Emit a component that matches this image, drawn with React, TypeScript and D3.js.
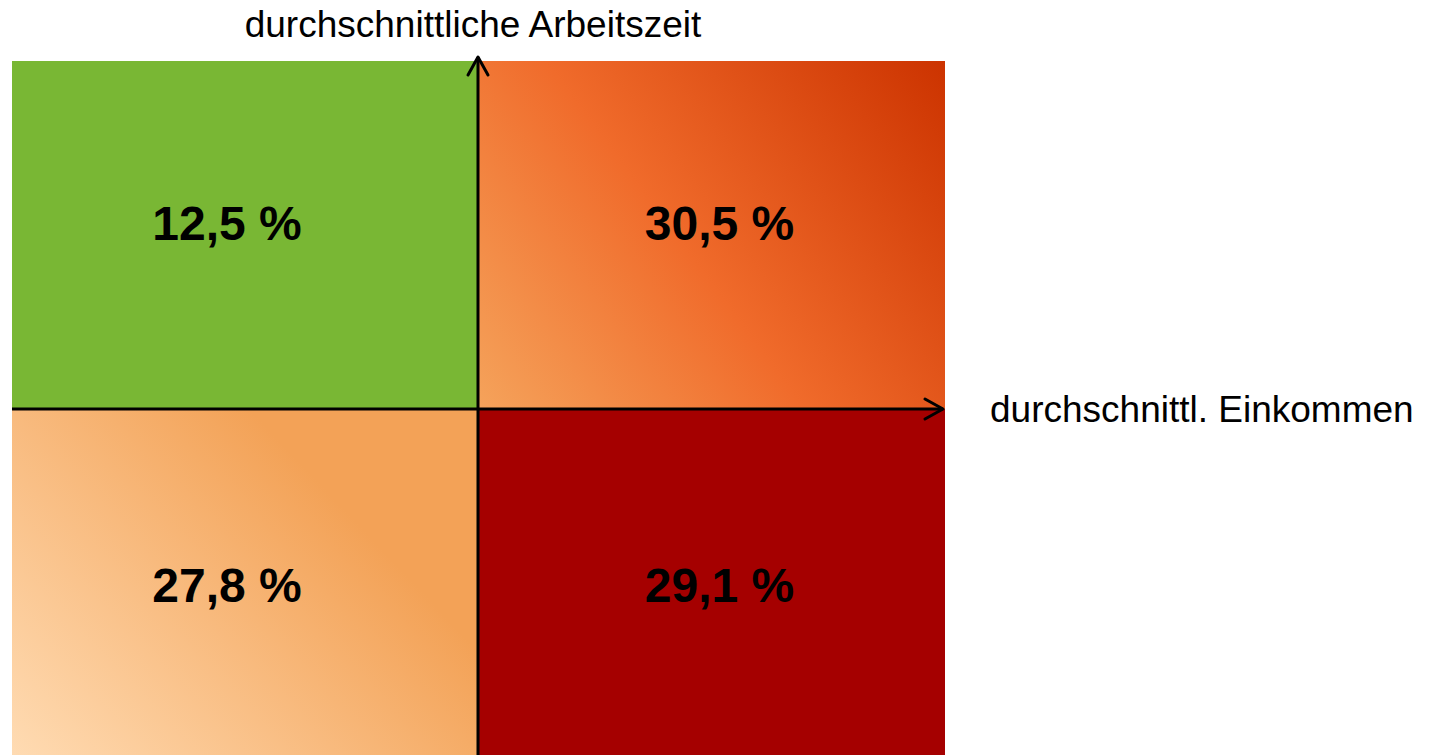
import React, { useRef, useEffect } from "react";
import * as d3 from "d3";

// quadrant data: position (-1 = left/bottom, 1 = right/top) and share
const quadrantNames = ["topLeft", "topRight", "bottomLeft", "bottomRight"];
const quadrantX = [-1, 1, -1, 1];
const quadrantY = [1, 1, -1, -1];
const quadrantValues = [12.5, 30.5, 27.8, 29.1];
const quadrantFills = [
  "#79b734",
  "url(#gradTopRight)",
  "url(#gradBottomLeft)",
  "#a50000",
];
const yAxisTitle = "durchschnittliche Arbeitszeit";
const xAxisTitle = "durchschnittl. Einkommen";

const WIDTH = 1429;
const HEIGHT = 755;

const formatPct = (v: number) => d3.format(".1f")(v).replace(".", ",") + " %";

const QuadrantChart = () => {
  const svgRef = useRef<SVGSVGElement>(null);

  useEffect(() => {
    const svg = d3.select(svgRef.current);
    svg.selectAll("*").remove();

    const xScale = d3.scaleLinear().domain([-1, 0, 1]).range([12, 478, 945]);
    const yScale = d3.scaleLinear().domain([-1, 0, 1]).range([757, 409, 61]);

    const defs = svg.append("defs");

    const gTR = defs
      .append("linearGradient")
      .attr("id", "gradTopRight")
      .attr("gradientUnits", "userSpaceOnUse")
      .attr("x1", xScale(0))
      .attr("y1", yScale(0))
      .attr("x2", xScale(1))
      .attr("y2", yScale(1));
    gTR.append("stop").attr("offset", 0).attr("stop-color", "#f5a35b");
    gTR.append("stop").attr("offset", 0.45).attr("stop-color", "#f06b2b");
    gTR.append("stop").attr("offset", 1).attr("stop-color", "#cc3300");

    const gBL = defs
      .append("linearGradient")
      .attr("id", "gradBottomLeft")
      .attr("gradientUnits", "userSpaceOnUse")
      .attr("x1", xScale(-1))
      .attr("y1", 765)
      .attr("x2", xScale(-0.35))
      .attr("y2", yScale(-0.2));
    gBL.append("stop").attr("offset", 0).attr("stop-color", "#ffdcb4");
    gBL.append("stop").attr("offset", 1).attr("stop-color", "#f3a257");

    const data = quadrantNames.map((name, i) => ({
      name,
      x: quadrantX[i],
      y: quadrantY[i],
      value: quadrantValues[i],
      fill: quadrantFills[i],
    }));

    svg
      .selectAll(".cell")
      .data(data)
      .join("rect")
      .attr("class", "cell")
      .attr("x", (d) => xScale(Math.min(0, d.x)))
      .attr("y", (d) => yScale(Math.max(0, d.y)))
      .attr("width", (d) => Math.abs(xScale(d.x) - xScale(0)))
      .attr("height", (d) => Math.abs(yScale(d.y) - yScale(0)))
      .attr("fill", (d) => d.fill);

    svg
      .selectAll(".value")
      .data(data)
      .join("text")
      .attr("class", "value")
      .attr("x", (d) => xScale(d.x / 2))
      .attr("y", (d) => yScale(d.y / 2))
      .attr("dx", (d) => (d.x < 0 ? -18 : 8))
      .attr("dy", (d) => (d.y > 0 ? 5 : 19))
      .attr("text-anchor", "middle")
      .style("font-family", "'Liberation Sans', Arial, sans-serif")
      .style("font-weight", "bold")
      .style("font-size", "48px")
      .attr("fill", "#000")
      .text((d) => formatPct(d.value));

    // axes
    const axisG = svg
      .append("g")
      .attr("stroke", "#000")
      .attr("stroke-width", 3)
      .attr("fill", "none")
      .attr("stroke-linecap", "round")
      .attr("stroke-linejoin", "round");

    const x0 = xScale(0);
    const y0 = yScale(0);
    const yTip = 57;
    const xTip = 943;

    axisG
      .append("line")
      .attr("x1", x0)
      .attr("x2", x0)
      .attr("y1", HEIGHT + 5)
      .attr("y2", yTip)
      .attr("stroke-linecap", "butt");
    axisG
      .append("path")
      .attr("d", `M${x0 - 10},${yTip + 18}L${x0},${yTip}L${x0 + 10},${yTip + 18}`);

    axisG
      .append("line")
      .attr("x1", xScale(-1))
      .attr("x2", xTip)
      .attr("y1", y0)
      .attr("y2", y0)
      .attr("stroke-linecap", "butt");
    axisG
      .append("path")
      .attr("d", `M${xTip - 18},${y0 - 10}L${xTip},${y0}L${xTip - 18},${y0 + 10}`);

    svg
      .append("text")
      .attr("x", 473)
      .attr("y", 37)
      .attr("text-anchor", "middle")
      .style("font-family", "'Liberation Sans', Arial, sans-serif")
      .style("font-size", "37px")
      .attr("fill", "#000")
      .text(yAxisTitle);

    svg
      .append("text")
      .attr("x", 990)
      .attr("y", 422)
      .style("font-family", "'Liberation Sans', Arial, sans-serif")
      .style("font-size", "37px")
      .attr("fill", "#000")
      .text(xAxisTitle);
  }, []);

  return (
    <svg
      ref={svgRef}
      width={WIDTH}
      height={HEIGHT}
      style={{ position: "absolute", left: 0, top: 0, background: "#fff" }}
    />
  );
};

export default function App() {
  return <QuadrantChart />;
}
